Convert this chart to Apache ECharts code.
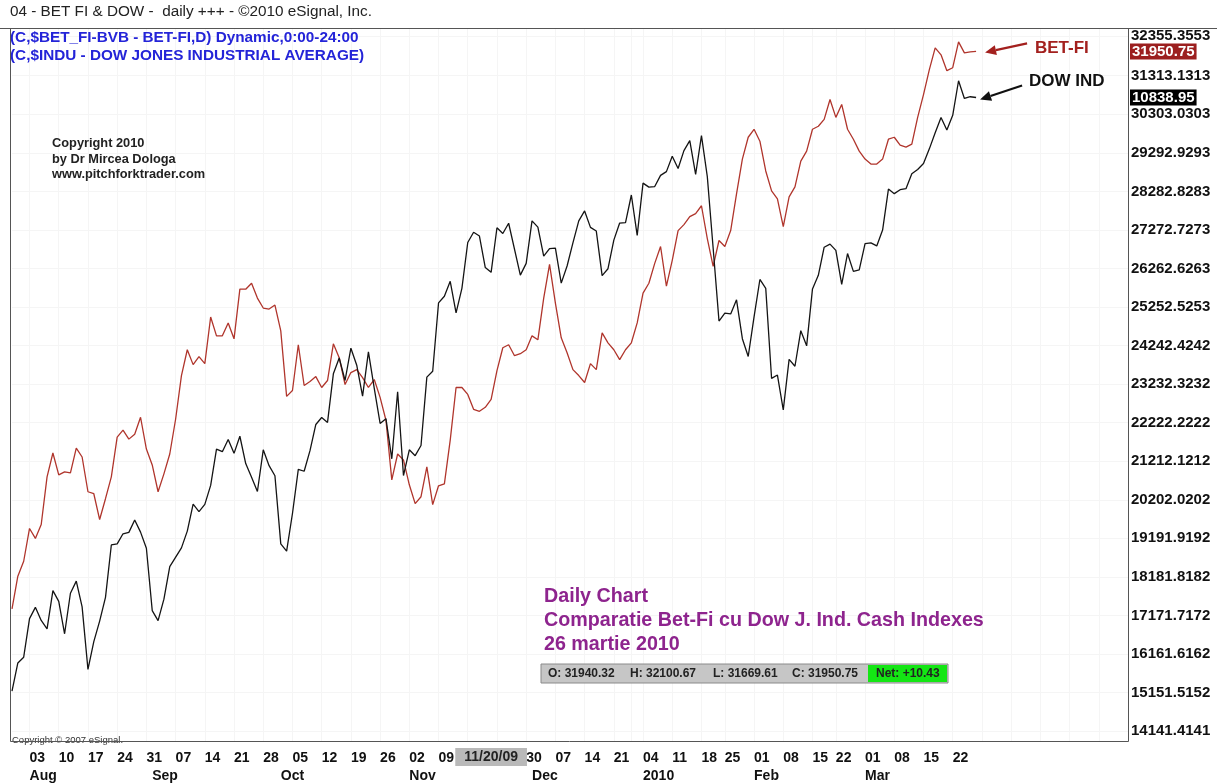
<!DOCTYPE html>
<html><head><meta charset="utf-8">
<script src="https://cdn.jsdelivr.net/npm/echarts@6/dist/echarts.min.js"></script>
<style>html,body{margin:0;padding:0;background:#fff;}#c{width:1217px;height:783px;}</style>
</head><body><div id="c"></div>
<script>
// ---------- data ----------
const firstDay = '2009-07-29';
const slotCount = 192;
const skippedDays = ['2009-12-24','2009-12-25','2009-12-28','2009-12-29','2010-01-01','2010-01-18','2010-02-15'];
const hiddenWeekLabels = ['2009-11-16','2009-11-23','2009-12-28'];
const cursorDay = '2009-11-20';
const cursorText = '11/20/09';
const monthLabels = {'2009-08':'Aug','2009-09':'Sep','2009-10':'Oct','2009-11':'Nov','2009-12':'Dec','2010-01':'2010','2010-02':'Feb','2010-03':'Mar'};

const betValues = [17342,18200,18591,19450,19189,19554,20802,21427,20855,20933,
 20907,21557,21323,20412,20360,19684,20230,20802,21843,22025,
 21791,21921,22364,21531,21115,20412,20881,21401,22312,23457,
 24133,23743,23951,23769,24992,24497,24497,24836,24419,25720,
 25720,25876,25486,25226,25200,25304,24627,22910,23066,24263,
 23196,23300,23430,23144,23326,24289,23925,23222,23535,23613,
 23404,23144,23352,22884,22286,20724,21401,21245,20594,20100,
 20282,21063,20074,20568,20620,21765,23144,23144,22962,22572,
 22520,22624,22832,23587,24185,24263,23977,24029,24133,24497,
 24393,25486,26371,25356,24445,24055,23613,23457,23274,23769,
 23613,24575,24315,24133,23873,24133,24315,24836,25616,25876,
 26397,26839,25798,26475,27255,27412,27620,27698,27906,27047,
 26319,26995,26839,27255,28218,29129,29701,29910,29597,28817,
 28296,28088,27360,28140,28400,29077,29337,29910,29988,30170,
 30690,30222,30560,29910,29649,29337,29129,28999,28999,29129,
 29649,29701,29493,29441,29519,30222,30820,31471,32043,31861,
 31445,31523,32199,31913,31939,31950.75];

const dowValues = [9070.72,9154.46,9171.61,9286.56,9320.19,9280.97,9256.26,9370.07,9337.95,9241.45,
 9362.17,9398.19,9321.40,9135.34,9217.94,9279.16,9350.05,9505.96,9509.28,9539.29,
 9543.52,9580.63,9544.20,9496.28,9310.60,9280.67,9344.61,9441.27,null,9497.34,
 9547.22,9627.48,9605.41,9626.80,9683.41,9791.71,9783.92,9820.20,9778.86,9829.87,
 9748.55,9707.44,9665.19,9789.36,9742.20,9712.28,9509.28,9487.67,9599.75,9731.25,
 9725.58,9786.87,9864.94,9885.80,9871.06,10015.86,10062.94,9995.91,10092.19,10041.48,
 9949.36,10081.31,9972.18,9867.96,9882.17,9762.69,9962.58,9712.73,9789.44,9771.91,
 9802.14,10005.96,10023.42,10226.94,10246.97,10291.26,10197.47,10270.47,10406.96,10437.42,
 10426.31,10332.44,10318.16,10450.95,10433.71,10464.40,null,10309.92,10344.84,10471.58,
 10452.68,10366.15,10388.90,10390.11,10285.97,10337.05,10405.83,10471.50,10501.05,10452.00,
 10441.12,10308.26,10328.89,10414.14,10464.93,10466.44,10548.51,10428.05,10583.96,10572.02,
 10573.68,10606.86,10618.19,10663.99,10627.26,10680.77,10710.55,10609.65,10725.43,10603.15,
 10389.88,10172.98,10196.86,10194.29,10236.16,10120.46,10067.33,10185.53,10296.85,10270.55,
 10002.18,10012.23,9908.39,10058.64,10038.38,10144.19,10099.14,10268.81,10309.24,10392.90,
 10402.35,10383.38,10282.41,10374.16,10321.03,10325.26,10403.79,10405.98,10396.76,10444.14,
 10566.20,10552.52,10564.38,10567.33,10611.84,10624.69,10642.15,10685.98,10733.67,10779.17,
 10741.98,10785.89,10888.83,10836.15,10841.21,10838.95];

const yTicks = [14141.4141,15151.5152,16161.6162,17171.7172,18181.8182,19191.9192,20202.0202,21212.1212,
 22222.2222,23232.3232,24242.4242,25252.5253,26262.6263,27272.7273,28282.8283,29292.9293,30303.0303,31313.1313,32355.3553];
const betAxisMin = 13881.2, betAxisMax = 32563.4;
const dowAxisMin = 8922, dowAxisMax = 11046;

const ohlcItems = ['O: 31940.32','H: 32100.67','L: 31669.61','C: 31950.75'];
const netText = 'Net: +10.43';

// ---------- build category slots ----------
function ymd(d){return d.toISOString().slice(0,10);}
const days=[];
(function(){let d=new Date(firstDay+'T00:00:00Z');
 while(days.length<slotCount){const wd=d.getUTCDay();const s=ymd(d);
  if(wd!==0&&wd!==6&&skippedDays.indexOf(s)<0)days.push(s);
  d.setUTCDate(d.getUTCDate()+1);}})();
function mondayOf(s){const t=new Date(s+'T00:00:00Z');const wd=t.getUTCDay();t.setUTCDate(t.getUTCDate()-(wd-1));return ymd(t);}
const nData = betValues.length;
function isWeekTick(i){
  if(i<=0||i>=nData)return false;
  const m=mondayOf(days[i]);
  return m!==mondayOf(days[i-1]) && hiddenWeekLabels.indexOf(m)<0;
}
function isGridTick(i){ if(i<=0)return false; return mondayOf(days[i])!==mondayOf(days[i-1]); }
function isMonthTick(i){
  if(i<0||i>=nData)return false;
  const mk=days[i].slice(0,7);
  if(!monthLabels[mk])return false;
  return i===0||days[i-1].slice(0,7)!==mk;
}
const FONT='Liberation Sans';

const chart=echarts.init(document.getElementById('c'),null,{renderer:'canvas'});
const option={
  animation:false,
  backgroundColor:'#fff',
  grid:{left:12,right:89,top:28,bottom:37,containLabel:false},
  xAxis:[
    {type:'category',data:days,boundaryGap:false,position:'bottom',
     axisLine:{show:false},axisTick:{show:false},
     axisLabel:{interval:(i)=>isWeekTick(i),formatter:(v)=>mondayOf(v).slice(8,10),
       align:'left',fontFamily:FONT,fontSize:14,fontWeight:'bold',color:'#111',margin:10},
     splitLine:{show:true,interval:(i)=>isGridTick(i),lineStyle:{color:'#f5f5f5',width:1}}},
    {type:'category',data:days,boundaryGap:false,position:'bottom',
     axisLine:{show:false},axisTick:{show:false},splitLine:{show:false},
     axisLabel:{interval:(i)=>isMonthTick(i),formatter:(v)=>monthLabels[v.slice(0,7)]||'',
       align:'left',fontFamily:FONT,fontSize:14,fontWeight:'bold',color:'#111',margin:28}},
    {type:'category',data:days,boundaryGap:false,position:'bottom',
     axisLine:{show:false},axisTick:{show:false},splitLine:{show:false},
     axisLabel:{interval:(i)=>days[i]===cursorDay,formatter:()=>cursorText,
       align:'center',fontFamily:FONT,fontSize:14,fontWeight:'bold',color:'#222',margin:7,
       backgroundColor:'#b9b9b9',padding:[2,9,2,9]}}
  ],
  yAxis:[
    {type:'value',position:'right',min:betAxisMin,max:betAxisMax,
     axisLine:{show:false},axisTick:{show:false,customValues:yTicks},
     axisLabel:{customValues:yTicks,formatter:(v)=>Number(v).toFixed(4),fontFamily:FONT,fontSize:15,fontWeight:'bold',color:'#111',margin:3},
     splitLine:{show:true,lineStyle:{color:'#f5f5f5',width:1}}},
    {type:'value',min:dowAxisMin,max:dowAxisMax,show:false}
  ],
  series:[
    {name:'BET-FI',type:'line',xAxisIndex:0,yAxisIndex:0,data:betValues,showSymbol:false,
     lineStyle:{color:'#b0352c',width:1.3},z:3},
    {name:'DOW',type:'line',xAxisIndex:0,yAxisIndex:1,data:dowValues,showSymbol:false,connectNulls:true,
     lineStyle:{color:'#141414',width:1.3},z:4}
  ]
};
chart.setOption(option);

// ---------- annotations ----------
const lastI=nData-1;
const lastX=chart.convertToPixel({xAxisIndex:0},lastI);
const betY=chart.convertToPixel({yAxisIndex:0},betValues[lastI]);
const dowY=chart.convertToPixel({yAxisIndex:1},dowValues[lastI]);
const gr=chart.getModel().getComponent('grid').coordinateSystem.getRect();
function arrow(x1,y1,x2,y2,color){
  const ang=Math.atan2(y2-y1,x2-x1),L=11,W=5;
  const bx=x2-L*Math.cos(ang),by=y2-L*Math.sin(ang);
  const px=-Math.sin(ang)*W,py=Math.cos(ang)*W;
  return [
    {type:'line',shape:{x1:x1,y1:y1,x2:bx,y2:by},style:{stroke:color,lineWidth:2.2}},
    {type:'polygon',shape:{points:[[x2,y2],[bx+px,by+py],[bx-px,by-py]]},style:{fill:color}}
  ];
}
const graphics=[
  {type:'rect',shape:{x:10.5,y:gr.y+0.5,width:gr.x+gr.width-10,height:gr.height},style:{fill:'none',stroke:'#555',lineWidth:1},z:10},
  {type:'line',shape:{x1:0,y1:gr.y+0.5,x2:1217,y2:gr.y+0.5},style:{stroke:'#555',lineWidth:1},z:10},
  {type:'text',x:10,y:12,style:{text:'04 - BET FI & DOW -  daily +++ - \u00a92010 eSignal, Inc.',fill:'#222',font:'15.3px '+FONT,textVerticalAlign:'middle'}},
  {type:'text',x:10,y:38,style:{text:'(C,$BET_FI-BVB - BET-FI,D) Dynamic,0:00-24:00',fill:'#2424d8',font:'bold 15.3px '+FONT,textVerticalAlign:'middle'}},
  {type:'text',x:10,y:56,style:{text:'(C,$INDU - DOW JONES INDUSTRIAL AVERAGE)',fill:'#2424d8',font:'bold 15.3px '+FONT,textVerticalAlign:'middle'}},
  {type:'text',x:52,y:143,style:{text:'Copyright 2010',fill:'#222',font:'bold 12.8px '+FONT,textVerticalAlign:'middle'}},
  {type:'text',x:52,y:159,style:{text:'by Dr Mircea Dologa',fill:'#222',font:'bold 12.8px '+FONT,textVerticalAlign:'middle'}},
  {type:'text',x:52,y:174,style:{text:'www.pitchforktrader.com',fill:'#222',font:'bold 12.8px '+FONT,textVerticalAlign:'middle'}},
  {type:'text',x:12,y:740,style:{text:'Copyright \u00a9 2007 eSignal.',fill:'#333',font:'9.5px "Liberation Sans Narrow", '+FONT,textVerticalAlign:'middle'}},
  {type:'text',x:544,y:597,style:{text:'Daily Chart',fill:'#8e248e',font:'bold 19.7px '+FONT,textVerticalAlign:'middle'}},
  {type:'text',x:544,y:621,style:{text:'Comparatie Bet-Fi cu Dow J. Ind. Cash Indexes',fill:'#8e248e',font:'bold 19.7px '+FONT,textVerticalAlign:'middle'}},
  {type:'text',x:544,y:645,style:{text:'26 martie 2010',fill:'#8e248e',font:'bold 19.7px '+FONT,textVerticalAlign:'middle'}},
  {type:'rect',shape:{x:541,y:664,width:407,height:19},style:{fill:'#c6c6c6',stroke:'#8a8a8a',lineWidth:1}},
  {type:'rect',shape:{x:868,y:665,width:79,height:17},style:{fill:'#14e614'}},
  {type:'text',x:548,y:674,style:{text:ohlcItems[0],fill:'#222',font:'bold 12px '+FONT,textVerticalAlign:'middle'}},
  {type:'text',x:630,y:674,style:{text:ohlcItems[1],fill:'#222',font:'bold 12px '+FONT,textVerticalAlign:'middle'}},
  {type:'text',x:713,y:674,style:{text:ohlcItems[2],fill:'#222',font:'bold 12px '+FONT,textVerticalAlign:'middle'}},
  {type:'text',x:792,y:674,style:{text:ohlcItems[3],fill:'#222',font:'bold 12px '+FONT,textVerticalAlign:'middle'}},
  {type:'text',x:876,y:674,style:{text:netText,fill:'#222',font:'bold 12px '+FONT,textVerticalAlign:'middle'}},
  {type:'text',x:gr.x+gr.width+2,y:betY,style:{text:String(betValues[lastI].toFixed(2)),fill:'#fff',font:'bold 15px '+FONT,textVerticalAlign:'middle',backgroundColor:'#9c1f1f',padding:[1,2,0,2]},z:20},
  {type:'text',x:gr.x+gr.width+2,y:dowY,style:{text:String(dowValues[lastI].toFixed(2)),fill:'#fff',font:'bold 15px '+FONT,textVerticalAlign:'middle',backgroundColor:'#000',padding:[1,2,0,2]},z:20},
  {type:'text',x:1035,y:48,style:{text:'BET-FI',fill:'#a3201e',font:'bold 17px '+FONT,textVerticalAlign:'middle'}},
  {type:'text',x:1029,y:81,style:{text:'DOW IND',fill:'#111',font:'bold 17px '+FONT,textVerticalAlign:'middle'}}
].concat(arrow(lastX+51,betY-8,lastX+9,betY+1,'#a3201e'))
 .concat(arrow(lastX+46,dowY-12,lastX+4,dowY+2,'#111'));
chart.setOption({graphic:graphics});
</script>
</body></html>
